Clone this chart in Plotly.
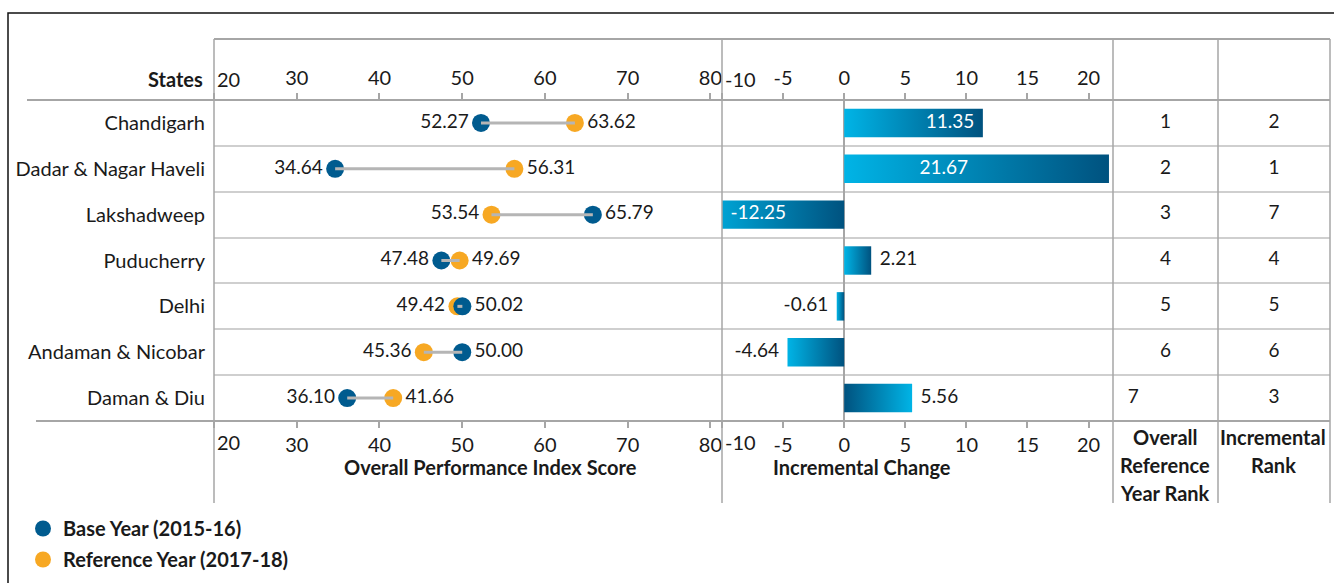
import plotly.graph_objects as go

# ---------------- data ----------------
states = ["Chandigarh", "Dadar & Nagar Haveli", "Lakshadweep", "Puducherry",
          "Delhi", "Andaman & Nicobar", "Daman & Diu"]
base_year = [52.27, 34.64, 65.79, 47.48, 50.02, 50.00, 36.10]
reference_year = [63.62, 56.31, 53.54, 49.69, 49.42, 45.36, 41.66]
incremental_change = [11.35, 21.67, -12.25, 2.21, -0.61, -4.64, 5.56]
overall_rank = [1, 2, 3, 4, 5, 6, 7]
incremental_rank = [2, 1, 7, 4, 5, 6, 3]
score_ticks = [20, 30, 40, 50, 60, 70, 80]
change_ticks = [-10, -5, 0, 5, 10, 15, 20]

# ---------------- style ----------------
W, H = 1334, 583


def px(x):
    return x / W


def py(y):
    return 1 - y / H


FONT = "Lato"
TXT = "#1a1a1a"
BLUE = "#005b8f"
ORANGE = "#f7a823"
GRID = "#cfcfcf"
LINE = "#a6a6a6"
LIGHT = "#00b4e6"
DARK = "#00527f"
FS_LABEL = 20   # state names, tick labels, titles
FS_VAL = 19     # value labels
FS_RANK = 19

rows = list(range(len(states)))
score_range = [20, 81.4]
change_range = [-10, 22]

fig = go.Figure()

# connectors of the dumbbells
cx, cy = [], []
for i in rows:
    cx += [base_year[i], reference_year[i], None]
    cy += [i, i, None]
fig.add_trace(go.Scatter(x=cx, y=cy, mode="lines", line=dict(color="#b5b5b5", width=3),
                         xaxis="x5", yaxis="y", showlegend=False, hoverinfo="skip"))

# dots
fig.add_trace(go.Scatter(x=reference_year, y=rows, mode="markers",
                         marker=dict(color=ORANGE, size=18),
                         name="Reference Year (2017-18)", legendrank=2, legendgroup="r",
                         xaxis="x", yaxis="y"))
fig.add_trace(go.Scatter(x=base_year, y=rows, mode="markers",
                         marker=dict(color=BLUE, size=18),
                         name="Base Year (2015-16)", legendrank=1, legendgroup="b",
                         xaxis="x", yaxis="y"))

# dot labels (smaller value on the left, larger on the right)
for vals, other in ((base_year, reference_year), (reference_year, base_year)):
    pos = ["middle left" if v < o else "middle right" for v, o in zip(vals, other)]
    fig.add_trace(go.Scatter(x=vals, y=rows, mode="markers+text",
                             text=[f"{v:.2f}" for v in vals], textposition=pos,
                             marker=dict(size=18, opacity=0),
                             textfont=dict(family=FONT, size=FS_VAL, color=TXT),
                             showlegend=False, hoverinfo="skip", cliponaxis=False,
                             xaxis="x", yaxis="y"))

# gradient bars
half = 0.31
reversed_gradient = {"Daman & Diu"}
for i, v in enumerate(incremental_change):
    scale = [[0, LIGHT], [1, DARK]]
    if states[i] in reversed_gradient:
        scale = [[0, DARK], [1, LIGHT]]
    fig.add_trace(go.Scatter(x=[0, v, v, 0, 0],
                             y=[i - half, i - half, i + half, i + half, i - half],
                             mode="lines", fill="toself", line=dict(width=0),
                             fillgradient=dict(type="horizontal", colorscale=scale),
                             xaxis="x2", yaxis="y2", showlegend=False, hoverinfo="skip"))

# bar labels
label_mode = ["end", "middle", "start", "out", "out", "out", "out"]
lx, lpos, lcol = [], [], []
for v, m in zip(incremental_change, label_mode):
    if m == "end":
        lx.append(v); lpos.append("middle left" if v > 0 else "middle right"); lcol.append("white")
    elif m == "middle":
        lx.append(v / 2); lpos.append("middle left"); lcol.append("white")
    elif m == "start":
        lx.append(max(v, change_range[0])); lpos.append("middle right"); lcol.append("white")
    else:
        lx.append(v); lpos.append("middle right" if v > 0 else "middle left"); lcol.append(TXT)
fig.add_trace(go.Scatter(x=lx, y=rows, mode="markers+text",
                         text=[f"{v:.2f}" for v in incremental_change], textposition=lpos,
                         marker=dict(size=12, opacity=0),
                         textfont=dict(family=FONT, size=FS_VAL, color=lcol),
                         showlegend=False, hoverinfo="skip", cliponaxis=False,
                         xaxis="x6", yaxis="y2"))

# rank columns
rank_align = ["center"] * 6 + ["left"]
fig.add_trace(go.Scatter(x=[0.5 if a == "center" else 0.0 for a in rank_align], y=rows,
                         mode="markers+text", text=[str(r) for r in overall_rank],
                         textposition=["middle center" if a == "center" else "middle right" for a in rank_align],
                         marker=dict(size=22, opacity=0),
                         textfont=dict(family=FONT, size=FS_RANK, color=TXT),
                         showlegend=False, hoverinfo="skip", cliponaxis=False,
                         xaxis="x3", yaxis="y3"))
fig.add_trace(go.Scatter(x=[0.5] * len(rows), y=rows, mode="text",
                         text=[str(r) for r in incremental_rank], textposition="middle center",
                         textfont=dict(family=FONT, size=FS_RANK, color=TXT),
                         showlegend=False, hoverinfo="skip", cliponaxis=False,
                         xaxis="x4", yaxis="y4"))

# ---------------- axes ----------------
tick_style = dict(showgrid=False, zeroline=False, showline=False, ticks="outside",
                  ticklen=6, tickwidth=1.5, tickcolor=LINE,
                  tickfont=dict(family=FONT, size=FS_LABEL, color=TXT))
d1 = [px(214), px(722)]
d2 = [px(722), px(1113)]
d3 = [px(1113), px(1218)]
d4 = [px(1218), px(1330)]
ydom = [py(421), py(100)]
score_text = [""] + [str(t) for t in score_ticks[1:]]
change_text = [""] + [str(t) for t in change_ticks[1:]]
minor_grid = dict(tickmode="array", tickvals=[i + 0.5 for i in rows[:-1]],
                  showgrid=True, gridcolor=GRID, gridwidth=1.5, ticks="")
yrange = [len(rows) - 0.5, -0.5]

fig.update_layout(
    xaxis=dict(domain=d1, range=score_range, tickvals=score_ticks, ticktext=score_text,
               anchor="y", side="bottom", **tick_style),
    xaxis5=dict(range=score_range, tickvals=score_ticks, ticktext=score_text,
                overlaying="x", anchor="y", side="top", **tick_style),
    xaxis2=dict(domain=d2, range=change_range, tickvals=change_ticks, ticktext=change_text,
                anchor="y2", side="bottom",
                **{**tick_style, "zeroline": True}, zerolinecolor=LINE, zerolinewidth=2),
    xaxis6=dict(range=change_range, tickvals=change_ticks, ticktext=change_text,
                overlaying="x2", anchor="y2", side="top", **tick_style),
    xaxis3=dict(domain=d3, range=[0, 1], visible=False, anchor="y3"),
    xaxis4=dict(domain=d4, range=[0, 1], visible=False, anchor="y4"),
    yaxis=dict(domain=ydom, range=yrange, tickvals=rows, ticktext=states, anchor="x",
               ticks="", showgrid=False, zeroline=False, ticklabelstandoff=8,
               tickfont=dict(family=FONT, size=FS_LABEL, color=TXT), minor=minor_grid),
    yaxis2=dict(domain=ydom, range=yrange, anchor="x2", showticklabels=False, ticks="",
                showgrid=False, zeroline=False, minor=minor_grid),
    yaxis3=dict(domain=ydom, range=yrange, anchor="x3", showticklabels=False, ticks="",
                showgrid=False, zeroline=False, minor=minor_grid),
    yaxis4=dict(domain=ydom, range=yrange, anchor="x4", showticklabels=False, ticks="",
                showgrid=False, zeroline=False, minor=minor_grid),
)

# ---------------- decorations ----------------
shapes = [dict(type="rect", xref="paper", yref="paper", x0=px(8), x1=px(1345),
               y0=py(600), y1=py(13), line=dict(color="#111111", width=1.5))]
for xv in (214, 722, 1113, 1218, 1330):
    shapes.append(dict(type="line", xref="paper", yref="paper", x0=px(xv), x1=px(xv),
                       y0=py(39), y1=py(503), line=dict(color=LINE, width=1.5)))
for yv, xs in ((39, 214), (100, 27), (421, 36)):
    shapes.append(dict(type="line", xref="paper", yref="paper", x0=px(xs), x1=px(1330),
                       y0=py(yv), y1=py(yv), line=dict(color=LINE, width=2)))

ann = []


def A(text, x, y, xanchor="center", xref="paper", bold=False, size=FS_LABEL, xshift=0):
    ann.append(dict(text=f"<b>{text}</b>" if bold else text, x=x, y=y, xref=xref, yref="paper",
                    xanchor=xanchor, yanchor="middle", showarrow=False, xshift=xshift,
                    font=dict(family=FONT, size=size, color=TXT)))


A("States", px(205), py(79), xanchor="right", bold=True)
for yv in (79, 442):
    A(str(score_ticks[0]), score_ticks[0], py(yv), xanchor="left", xref="x", xshift=1)
    A(str(change_ticks[0]), change_ticks[0], py(yv), xanchor="left", xref="x2", xshift=1)
A("Overall Performance Index Score", px(490), py(467), bold=True)
A("Incremental Change", px(862), py(467), bold=True)
for j, t in enumerate(["Overall", "Reference", "Year Rank"]):
    A(t, px(1165), py(437 + 28 * j), bold=True)
for j, t in enumerate(["Incremental", "Rank"]):
    A(t, px(1273), py(437 + 28 * j), bold=True)

fig.update_layout(
    width=W, height=H, margin=dict(l=0, r=0, t=0, b=0),
    paper_bgcolor="white", plot_bgcolor="rgba(0,0,0,0)",
    shapes=shapes, annotations=ann,
    showlegend=True,
    legend=dict(x=px(23), y=py(509), xanchor="left", yanchor="top",
                font=dict(family=FONT, size=FS_LABEL, color=TXT, weight="bold"),
                bgcolor="rgba(0,0,0,0)", tracegroupgap=2, traceorder="grouped",
                itemsizing="trace", itemwidth=30),
    font=dict(family=FONT, color=TXT),
)

fig.write_html("out.html", config={"displayModeBar": False},
               post_script="document.body.style.margin='0';document.body.style.overflow='hidden';")
